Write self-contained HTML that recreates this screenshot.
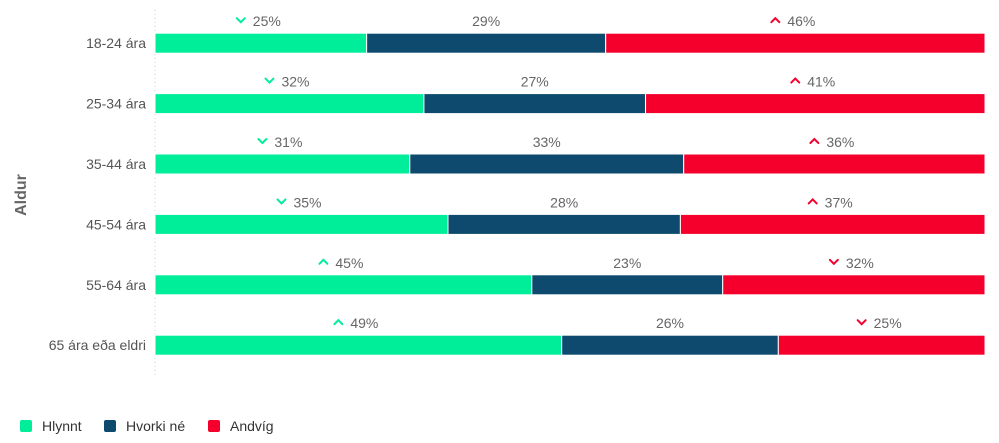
<!DOCTYPE html>
<html><head><meta charset="utf-8"><style>
body{margin:0;background:#fff;width:999px;height:438px;overflow:hidden;font-family:"Liberation Sans",sans-serif}
</style></head><body>
<svg id="chart" width="999" height="438" xmlns="http://www.w3.org/2000/svg" font-family="Liberation Sans, sans-serif"></svg>
<script>
const categories=["18-24 ára","25-34 ára","35-44 ára","45-54 ára","55-64 ára","65 ára eða eldri"];
const hlynnt=[25.5,32.4,30.7,35.3,45.4,49.0];
const hvorki=[28.8,26.7,33.0,28.0,23.0,26.1];
const andvig=[45.7,40.9,36.3,36.7,31.6,24.9];
const hlynntLabels=["25%","32%","31%","35%","45%","49%"];
const hvorkiLabels=["29%","27%","33%","28%","23%","26%"];
const andvigLabels=["46%","41%","36%","37%","32%","25%"];
const hlynntDir=["down","down","down","down","up","up"];
const andvigDir=["up","up","up","up","down","down"];
const seriesNames=["Hlynnt","Hvorki né","Andvíg"];
const colors=["#00ee99","#0d4a6e","#f5002d"];

const NS="http://www.w3.org/2000/svg";
const svg=document.getElementById('chart');
const x0=155,x1=985,yTop=13,rowH=60.4,barH=20;
const xs=v=>x0+v/100*(x1-x0);
const yc=i=>yTop+rowH*i+rowH/2;
function mk(tag,attrs,parent){const e=document.createElementNS(NS,tag);for(const k in attrs)e.setAttribute(k,attrs[k]);(parent||svg).appendChild(e);return e;}

const axis=mk('line',{x1:x0,x2:x0,y1:10,y2:378,stroke:'#ccd','stroke-dasharray':'1,3'});



const title=mk('text',{x:0,y:0,transform:'translate(26,195) rotate(-90)','text-anchor':'middle','font-size':'16','font-weight':'bold',fill:'#666'});
title.textContent='Aldur';



const series=[hlynnt,hvorki,andvig];
const labels=[hlynntLabels,hvorkiLabels,andvigLabels];
const names=['hlynnt','hvorki','andvig'];
categories.forEach((c,i)=>{
  const cy=yc(i);
  const t=mk('text',{x:146,y:cy+5,'text-anchor':'end','font-size':'14',fill:'#555'});
  t.textContent=c;
  
  
  let acc=0;
  series.forEach((s,k)=>{
    const a=xs(acc),b=xs(acc+s[i]);acc+=s[i];
    const r=mk('rect',{x:a,y:cy-barH/2,width:b-a,height:barH,fill:colors[k],stroke:'#fff','stroke-width':'1'});
    
    
    const mid=(a+b)/2, ly=cy-barH/2-7;
    const dir=k===0?hlynntDir[i]:k===2?andvigDir[i]:null;
    const g=mk('g',{});
    
    
    const tx=dir?mid+6:mid;
    const lt=mk('text',{x:tx,y:ly,'text-anchor':'middle','font-size':'14',fill:'#666'},g);
    lt.textContent=labels[k][i];
    if(dir){
      const cx=tx-26, cyy=ly-6;
      const d=dir==='down'?`M${cx-4},${cyy-2} L${cx},${cyy+2} L${cx+4},${cyy-2}`:`M${cx-4},${cyy+2} L${cx},${cyy-2} L${cx+4},${cyy+2}`;
      const p=mk('path',{d:d,fill:'none',stroke:colors[k],'stroke-width':'2','stroke-linecap':'round'},g);
      
      
    }
  });
});

const lx=[20,104,208];
seriesNames.forEach((n,k)=>{
  const g=mk('g',{});
  
  
  mk('rect',{x:lx[k],y:420,width:12,height:12,rx:2,fill:colors[k]},g);
  const t=mk('text',{x:lx[k]+22,y:431,'font-size':'14',fill:'#333'},g);
  t.textContent=n;
});
</script>
</body></html>
